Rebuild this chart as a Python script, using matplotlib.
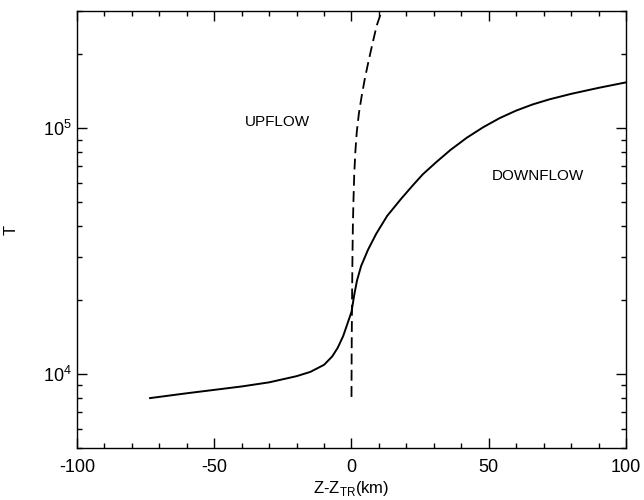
import matplotlib
matplotlib.use("Agg")
import matplotlib.pyplot as plt
from matplotlib.ticker import MultipleLocator, LogLocator

plt.rcParams['font.family'] = ['Liberation Sans', 'DejaVu Sans']
plt.rcParams['mathtext.fontset'] = 'custom'
plt.rcParams['mathtext.rm'] = 'Liberation Sans'
plt.rcParams['axes.unicode_minus'] = False

# downflow temperature profile (solid)
down_z = [-73.4, -60, -50, -40, -30, -20, -15, -10, -7, -5, -3, -1.5, 0,
          1, 2, 3.5, 6, 9, 13, 18, 22, 26, 31, 36, 42, 48, 54, 60, 66, 72,
          80, 90, 100]
down_t = [7980, 8350, 8620, 8900, 9250, 9800, 10200, 10900, 11800, 12800,
          14300, 16000, 17900, 21000, 24000, 27500, 32000, 37200, 44000,
          51500, 58000, 65000, 73000, 81500, 91500, 101000, 110000, 118000,
          125000, 131000, 138000, 146000, 153700]

# upflow temperature profile (dashed)
up_z = [0.0, 0.05, 0.2, 0.35, 0.5, 0.7, 1.0, 1.4, 1.9, 2.7, 3.7, 4.9, 6.1,
        7.6, 9.2, 11.0]
up_t = [8070, 12000, 20000, 30000, 40000, 50000, 65000, 80000, 96000,
        115000, 135000, 160000, 185000, 220000, 262000, 300000]

fig = plt.figure(figsize=(6.44, 5.00), dpi=100)
ax = fig.add_axes([0.1196, 0.104, 0.8524, 0.874])

ax.plot(down_z, down_t, '-k', lw=1.4)
ax.plot(up_z, up_t, '--k', lw=1.3, dashes=(6, 3))

ax.set_yscale('log')
ax.set_xlim(-100, 100)
ax.set_ylim(5000, 3.0e5)

ax.xaxis.set_major_locator(MultipleLocator(50))
ax.xaxis.set_minor_locator(MultipleLocator(10))
ax.yaxis.set_major_locator(LogLocator(base=10))
ax.yaxis.set_minor_locator(LogLocator(base=10, subs=range(2, 10)))

ax.tick_params(which='both', direction='in', top=True, right=True, width=1.0)
ax.tick_params(which='major', length=7, labelsize=13)
ax.tick_params(which='minor', length=3.5)
ax.tick_params(axis='x', which='major', pad=8)
for s in ax.spines.values():
    s.set_linewidth(1.0)

ax.set_xlabel(r'Z-Z$_\mathregular{TR}$(km)', fontsize=12, labelpad=2)
ax.set_ylabel('T', fontsize=12, labelpad=18)

ax.text(-27, 1.06e5, 'UPFLOW', fontsize=11, ha='center', va='center')
ax.text(68, 6.4e4, 'DOWNFLOW', fontsize=11, ha='center', va='center')

fig.savefig('out.png', dpi=100)
